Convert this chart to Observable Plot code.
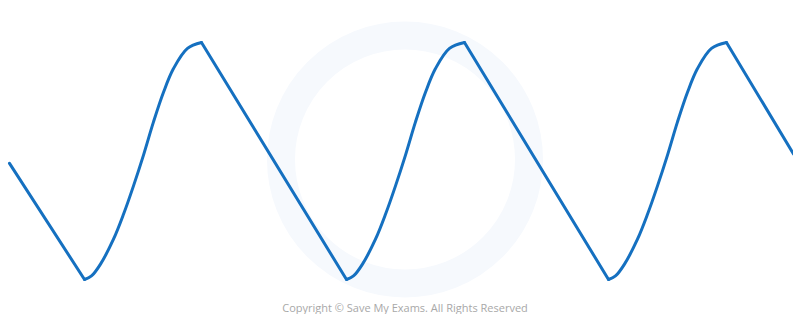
<!DOCTYPE html>
<html>
<head>
<meta charset="utf-8">
<script src="https://cdn.jsdelivr.net/npm/d3@7"></script>
<script src="https://cdn.jsdelivr.net/npm/@observablehq/plot@0.6"></script>
<style>
  html, body { margin: 0; padding: 0; background: #ffffff; }
  #chart svg { display: block; }
</style>
</head>
<body>
<div id="chart"></div>
<script>
// Time positions (arbitrary units along the horizontal axis) and displacement (-1 = trough, +1 = peak)
// Linear falling segments
const fallSegment = ["a", "a", "b", "b", "c", "c", "d", "d"];
const fallT       = [9, 84, 201, 346, 464, 608, 726, 793];
const fallY       = [-0.02, -1, 1, -1, 1, -1, 1, 0.06];

// Curved rising segments, one per cycle
const rise1T = [84, 91, 100, 113, 123, 133, 143, 153, 163, 173, 187, 201];
const rise1Y = [-1, -0.97, -0.87, -0.66, -0.45, -0.21, 0.05, 0.33, 0.58, 0.78, 0.95, 1];
const rise2T = [346, 353, 362, 375, 385, 395, 405, 415, 425, 435, 449, 464];
const rise2Y = [-1, -0.97, -0.87, -0.66, -0.45, -0.21, 0.05, 0.33, 0.58, 0.78, 0.95, 1];
const rise3T = [608, 615, 624, 637, 647, 657, 667, 677, 687, 697, 711, 726];
const rise3Y = [-1, -0.97, -0.87, -0.66, -0.45, -0.21, 0.05, 0.33, 0.58, 0.78, 0.95, 1];

const captionText = "Copyright \u00A9 Save My Exams. All Rights Reserved";

const falls = fallT.map((t, i) => ({t, y: fallY[i], seg: fallSegment[i]}));
const rises = [
  ...rise1T.map((t, i) => ({t, y: rise1Y[i], seg: "r1"})),
  ...rise2T.map((t, i) => ({t, y: rise2Y[i], seg: "r2"})),
  ...rise3T.map((t, i) => ({t, y: rise3Y[i], seg: "r3"}))
];

const lineColor = "#1570c0";

const chart = Plot.plot({
  width: 793,
  height: 314,
  margin: 0,
  style: {background: "#ffffff", fontFamily: "'Open Sans', sans-serif"},
  x: {domain: [0, 793], range: [0, 793], axis: null},
  y: {domain: [-1, 1], range: [279, 42], axis: null},
  marks: [
    // faint background watermark ring
    Plot.dot([0], {frameAnchor: "middle", dx: 8, dy: 2, r: 124, stroke: "#f6f9fd", strokeWidth: 28, fill: "none"}),
    Plot.line(falls, {x: "t", y: "y", z: "seg", stroke: lineColor, strokeWidth: 3, strokeLinecap: "round", strokeLinejoin: "round"}),
    Plot.line(rises, {x: "t", y: "y", z: "seg", curve: "catmull-rom", stroke: lineColor, strokeWidth: 3, strokeLinecap: "round", strokeLinejoin: "round"}),
    Plot.text([captionText], {text: d => d, frameAnchor: "bottom", lineAnchor: "bottom", dx: 8, dy: -3, fontSize: 11, fill: "#a8a8a8"})
  ]
});

document.getElementById("chart").appendChild(chart);
</script>
</body>
</html>
